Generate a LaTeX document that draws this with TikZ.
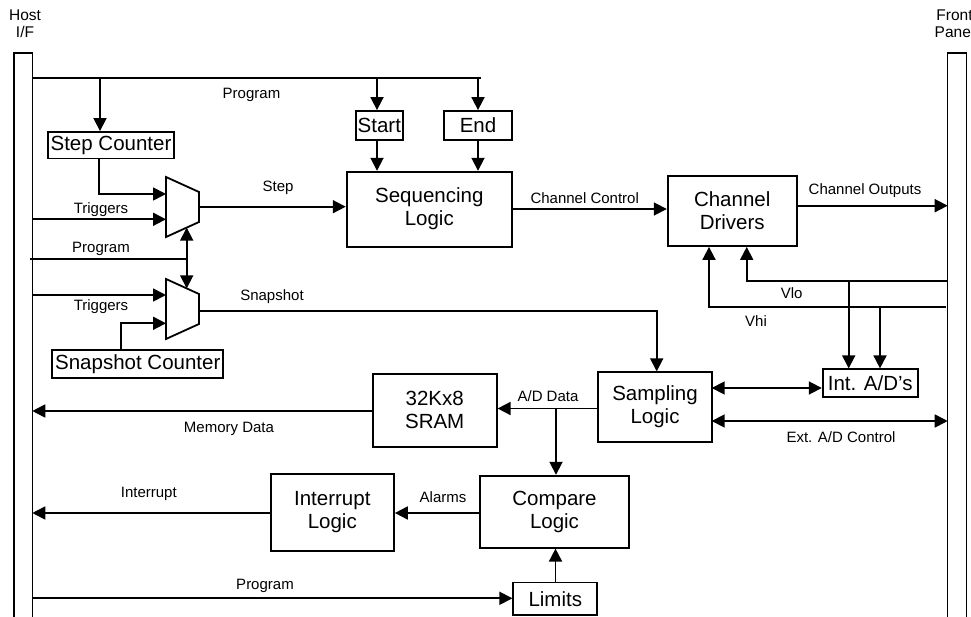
\documentclass[tikz,border=0pt]{standalone}
\usepackage{fontspec}
\setmainfont{Liberation Sans}
\usetikzlibrary{arrows.meta}
\tikzset{
  blk/.style={draw, line width=1.8pt, align=center, inner sep=0pt,
    font=\fontsize{20.5}{23}\selectfont},
  lbl/.style={inner sep=0pt, font=\fontsize{15}{17}\selectfont},
  hdr/.style={inner sep=0pt, align=center, font=\fontsize{15.5}{17}\selectfont},
  wire/.style={line width=1.8pt},
  arr/.style={wire, -{Triangle[length=13pt,width=13pt]}},
  darr/.style={wire, {Triangle[length=13pt,width=13pt]}-{Triangle[length=13pt,width=13pt]}},
  bar/.style={draw, line width=1.4pt},
  muxs/.style={draw, line width=1.8pt}
}
\begin{document}
\begin{tikzpicture}[x=1pt,y=-1pt]
\clip (0,0) rectangle (971,617);
\fill[white] (0,0) rectangle (971,617);

% side buses
\draw[bar] (14,53) rectangle (32.3,640);
\draw[bar] (947.7,53) rectangle (966.7,640);
\node[hdr] (host) at (25,24) {Host\\I/F};
\node[hdr] (front) at (954.5,24) {Front\\Panel};

% boxes
\node[blk, minimum width=126pt, minimum height=26.5pt] (stepc) at (111,145.2) {Step Counter};
\node[blk, minimum width=47.3pt, minimum height=29pt] (start) at (379.3,125.5) {Start};
\node[blk, minimum width=68pt, minimum height=29pt] (end) at (478,125.5) {End};
\node[blk, minimum width=165.3pt, minimum height=75pt] (seq) at (429.3,209.2) {Sequencing\\Logic};
\node[blk, minimum width=129pt, minimum height=70pt] (chd) at (732.2,211) {Channel\\Drivers};
\node[blk, minimum width=171pt, minimum height=28pt] (snapc) at (137.8,364) {Snapshot Counter};
\node[blk, minimum width=113.4pt, minimum height=69.4pt] (samp) at (655,407) {Sampling\\Logic};
\node[blk, minimum width=95pt, minimum height=27.4pt] (intad) at (870.2,383) {Int. A/D’s};
\node[blk, minimum width=124pt, minimum height=72.7pt] (sram) at (434.7,410.3) {32Kx8\\SRAM};
\node[blk, minimum width=123.3pt, minimum height=76.7pt] (intl) at (332.3,512.3) {Interrupt\\Logic};
\node[blk, minimum width=149pt, minimum height=72pt] (cmp) at (554.5,511.7) {Compare\\Logic};
\node[blk, minimum width=84pt, minimum height=32.5pt] (lim) at (555.3,598.8) {Limits};

% multiplexers
\coordinate (m1a) at (166,177);
\coordinate (m1b) at (199,192);
\coordinate (m1c) at (199,222);
\coordinate (m1d) at (166,237);
\draw[muxs] (m1a) -- (m1b) -- (m1c) -- (m1d) -- cycle;
\coordinate (m2a) at (166,279);
\coordinate (m2b) at (199,294);
\coordinate (m2c) at (199,324);
\coordinate (m2d) at (166,339);
\draw[muxs] (m2a) -- (m2b) -- (m2c) -- (m2d) -- cycle;

% junction coordinates
\coordinate (p0) at (32.3,78);
\coordinate (p1) at (100,78);
\coordinate (p2) at (377,78);
\coordinate (p3) at (478,78);
\coordinate (p4) at (481,78);

% top program bus
\draw[wire] (p0) -- (p4);
\node[lbl] (lprog1) at (251.5,94.5) {Program};
\draw[arr] (p1) -- (p1 |- stepc.north);
\draw[arr] (p2) -- (p2 |- start.north);
\draw[arr] (p3) -- (p3 |- end.north);
\draw[arr] (start.south -| p2) -- (p2 |- seq.north);
\draw[arr] (end.south -| p3) -- (p3 |- seq.north);

% step mux inputs
\coordinate (s1) at (99,194);
\draw[arr] (stepc.south -| s1) -- (s1) -- (s1 -| m1a);
\coordinate (t1) at (32.3,219.3);
\draw[arr] (t1) -- (t1 -| m1a);
\node[lbl] (ltrig1) at (101,210) {Triggers};
\coordinate (o1) at (199,206.7);
\draw[arr] (o1) -- (o1 -| seq.west);
\node[lbl] (lstep) at (278,188) {Step};

% program to muxes
\coordinate (pg) at (30,259);
\coordinate (pj) at (186.7,259);
\coordinate (pu) at (186.7,227.6);
\coordinate (pd) at (186.7,288.4);
\draw[wire] (pg) -- (pj);
\draw[arr] (pj) -- (pu);
\draw[arr] (pj) -- (pd);
\node[lbl] (lprog2) at (101,249) {Program};

% snapshot mux inputs
\coordinate (t2) at (32.3,295);
\draw[arr] (t2) -- (t2 -| m2a);
\node[lbl] (ltrig2) at (101,306.7) {Triggers};
\coordinate (s2) at (121,323.3);
\draw[arr] (snapc.north -| s2) -- (s2) -- (s2 -| m2a);
\coordinate (o2) at (199,310.7);
\coordinate (o2b) at (656.7,310.7);
\draw[arr] (o2) -- (o2b) -- (o2b |- samp.north);
\node[lbl] (lsnap) at (272,297) {Snapshot};

% sequencing to drivers
\coordinate (c1) at (512,209);
\draw[arr] (c1) -- (c1 -| chd.west);
\node[lbl] (lcc) at (584.7,198.3) {Channel Control};
\coordinate (c2) at (796.7,205.7);
\coordinate (c2e) at (947.7,205.7);
\draw[arr] (c2) -- (c2e);
\node[lbl] (lco) at (865,191) {Channel Outputs};

% Vlo / Vhi
\coordinate (vlo) at (947.7,280.7);
\coordinate (vloc) at (746.7,280.7);
\coordinate (vhi) at (946,306.7);
\coordinate (vhic) at (709,306.7);
\draw[arr] (vlo) -- (vloc) -- (vloc |- chd.south);
\draw[arr] (vhi) -- (vhic) -- (vhic |- chd.south);
\node[lbl] (lvlo) at (791.7,293.3) {Vlo};
\node[lbl] (lvhi) at (756,321) {Vhi};
\coordinate (va) at (848.7,280.7);
\coordinate (vb) at (880,306.7);
\draw[arr] (va) -- (va |- intad.north);
\draw[arr] (vb) -- (vb |- intad.north);

% sampling connections
\coordinate (a1) at (711.7,388);
\draw[darr] (a1) -- (a1 -| intad.west);
\coordinate (a2) at (711.7,421);
\coordinate (a2e) at (947.7,421);
\draw[darr] (a2) -- (a2e);
\node[lbl] (lext) at (841,437) {Ext. A/D Control};

\coordinate (d1) at (598.3,408.5);
\draw[arr] (d1) -- (d1 -| sram.east);
\node[lbl] (lad) at (548,396) {A/D Data};
\coordinate (d2) at (556,408.5);
\draw[arr] (d2) -- (d2 |- cmp.north);

\coordinate (md) at (372.7,411);
\draw[arr] (md) -- (md -| p0);
\node[lbl] (lmem) at (229,429) {Memory Data};

% compare / interrupt
\coordinate (al) at (480,513);
\draw[arr] (al) -- (al -| intl.east);
\node[lbl] (lalarm) at (443,496.7) {Alarms};
\coordinate (ir) at (270.7,513);
\draw[arr] (ir) -- (ir -| p0);
\node[lbl] (lint) at (148.8,494) {Interrupt};

% limits
\coordinate (pl) at (32.3,598.3);
\draw[arr] (pl) -- (pl -| lim.west);
\node[lbl] (lprog3) at (265,586) {Program};
\coordinate (lc) at (555.5,582.5);
\draw[arr] (lc) -- (lc |- cmp.south);
\end{tikzpicture}
\end{document}
